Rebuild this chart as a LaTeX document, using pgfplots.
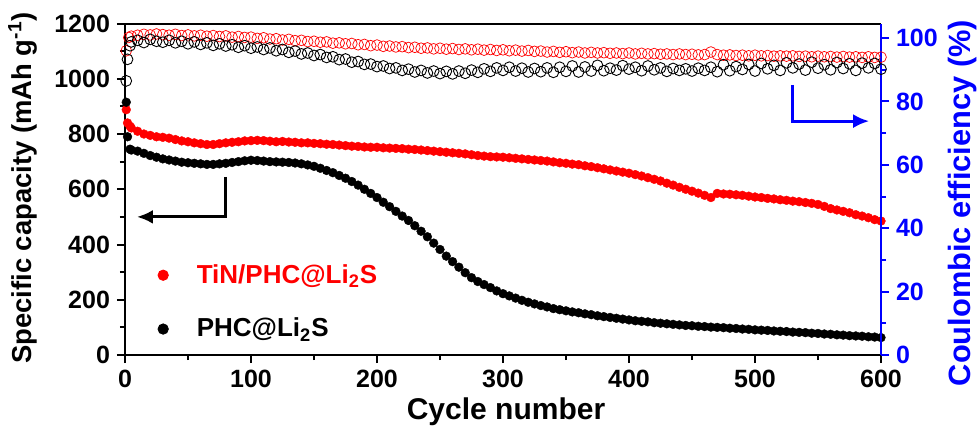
\documentclass[border=0pt]{standalone}
\usepackage{pgfplots}
\pgfplotsset{compat=1.18}
\usetikzlibrary{arrows.meta}
\usepackage{fontspec}
\setmainfont{Liberation Sans}

% discharge capacity (mAh/g) vs cycle
\pgfplotstableread{
c cap
1 888
2 840
4 828
5 822
10 810
15 800
20 795
25 790
30 788
35 785
40 780
45 775
50 772
55 768
60 765
65 762
70 762
75 765
80 768
85 770
90 772
95 775
100 776
105 777
110 776
115 774
120 772
125 773
130 771
135 770
140 768
145 768
150 766
155 765
160 763
165 762
170 760
175 758
180 756
185 755
190 753
195 752
200 752
205 750
210 749
215 748
220 747
225 745
230 744
235 742
240 740
245 738
250 736
255 734
260 732
265 730
270 728
275 725
280 722
285 720
290 718
295 717
300 716
305 714
310 712
315 710
320 708
325 706
330 704
335 702
340 699
345 696
350 694
355 691
360 689
365 685
370 682
375 678
380 674
385 670
390 666
395 662
400 658
405 653
410 648
415 642
420 636
425 630
430 622
435 615
440 607
445 600
450 593
455 586
460 578
465 570
470 585
475 583
480 582
485 580
490 578
495 575
500 572
505 570
510 567
515 565
520 562
525 560
530 557
535 555
540 552
545 549
550 545
555 538
560 530
565 525
570 520
575 515
580 508
585 503
590 497
595 490
600 485
}\capTiN

\pgfplotstableread{
c cap
1 915
2 790
4 745
5 742
10 738
15 730
20 722
25 716
30 710
35 706
40 702
45 698
50 696
55 694
60 692
65 690
70 690
75 692
80 694
85 697
90 700
95 703
100 705
105 704
110 702
115 700
120 699
125 698
130 697
135 695
140 692
145 688
150 683
155 676
160 668
165 660
170 650
175 640
180 628
185 615
190 600
195 585
200 570
205 553
210 537
215 520
220 503
225 487
230 468
235 448
240 428
245 405
250 382
255 358
260 338
265 318
270 298
275 280
280 266
285 255
290 244
295 232
300 222
305 214
310 206
315 198
320 191
325 185
330 179
335 174
340 168
345 164
350 160
355 156
360 153
365 149
370 146
375 142
380 139
385 136
390 133
395 130
400 127
405 124
410 122
415 120
420 117
425 115
430 113
435 111
440 109
445 107
450 106
455 104
460 103
465 101
470 100
475 99
480 97
485 96
490 94
495 93
500 91
505 90
510 89
515 87
520 86
525 85
530 83
535 82
540 81
545 79
550 78
555 76
560 75
565 73
570 72
575 70
580 69
585 68
590 66
595 65
600 63
}\capPHC

% coulombic efficiency (%)
\pgfplotstableread{
c ce
1 96.0
3 100.2
5 100.6
10 100.9
15 101.2
20 101.0
25 101.3
30 101.1
35 100.9
40 101.2
45 100.8
50 101.0
55 100.7
60 100.9
65 100.6
70 100.8
75 100.5
80 100.7
85 100.3
90 100.5
95 100.2
100 100.3
105 99.9
110 100.1
115 99.7
120 99.8
125 99.4
130 99.6
135 99.2
140 99.3
145 98.9
150 99.0
155 98.7
160 98.8
165 98.4
170 98.5
175 98.2
180 98.3
185 97.9
190 98.0
195 97.6
200 97.8
205 97.4
210 97.5
215 97.2
220 97.3
225 97.0
230 97.1
235 96.8
240 96.9
245 96.6
250 96.8
255 96.5
260 96.7
265 96.4
270 96.6
275 96.3
280 96.5
285 96.2
290 96.4
295 96.1
300 96.3
305 96.0
310 96.2
315 95.9
320 96.1
325 95.8
330 95.9
335 95.6
340 95.8
345 95.5
350 95.7
355 95.4
360 95.6
365 95.3
370 95.5
375 95.3
380 95.4
385 95.2
390 95.3
395 95.1
400 95.3
405 95.0
410 95.2
415 95.0
420 95.1
425 94.9
430 95.0
435 94.8
440 95.0
445 94.8
450 94.9
455 94.7
460 94.8
465 95.6
470 94.8
475 94.6
480 94.7
485 94.5
490 94.6
495 94.4
500 94.6
505 94.4
510 94.5
515 94.3
520 94.4
525 94.3
530 94.4
535 94.2
540 94.3
545 94.1
550 94.3
555 94.1
560 94.2
565 94.0
570 94.2
575 94.0
580 94.1
585 93.9
590 94.1
595 93.9
600 94.0
}\ceTiN

\pgfplotstableread{
c ce
1 86.5
2 93.3
4 97.6
5 98.8
10 99.3
15 98.6
20 99.6
25 99.0
30 98.7
35 99.3
40 98.5
45 99.0
50 98.2
55 98.8
60 98.0
65 98.5
70 97.7
75 98.2
80 97.5
85 97.9
90 97.1
95 97.6
100 96.8
105 97.2
110 96.4
115 96.9
120 96.0
125 96.4
130 95.5
135 95.9
140 95.0
145 95.3
150 94.5
155 94.8
160 93.9
165 94.1
170 93.2
175 93.4
180 92.4
185 92.6
190 91.7
195 91.8
200 91.0
205 91.2
210 90.4
215 90.6
220 89.8
225 90.2
230 89.3
235 89.8
240 89.0
245 89.6
250 88.8
255 89.5
260 88.7
265 89.6
270 88.9
275 89.9
280 89.2
285 90.3
290 89.5
295 90.6
300 89.8
305 90.8
310 89.6
315 90.5
320 89.3
325 90.4
330 89.4
335 90.6
340 89.2
345 90.8
350 89.5
355 91.2
360 89.3
365 90.9
370 89.6
375 91.4
380 89.7
385 90.5
390 89.9
395 91.3
400 90.2
405 90.8
410 89.7
415 91.2
420 90.0
425 90.6
430 89.5
435 90.4
440 89.8
445 90.3
450 89.6
455 90.5
460 89.8
465 90.8
470 89.4
475 91.6
480 89.7
485 91.0
490 90.1
495 91.7
500 89.6
505 92.0
510 90.3
515 91.4
520 89.8
525 92.2
530 90.6
535 91.8
540 89.9
545 92.4
550 90.5
555 91.6
560 90.0
565 92.3
570 90.4
575 91.9
580 89.8
585 92.1
590 90.6
595 92.0
600 90.2
}\cePHC

\pgfplotsset{
  common/.style={
    scale only axis, width=378pt, height=165.75pt,
    xmin=0, xmax=600,
    tick align=outside,
    major tick length=4pt, minor tick length=2.5pt,
    every tick/.style={line width=1pt},
    /pgf/number format/assume math mode=true,
    /pgf/number format/1000 sep={},
    ticklabel style={font=\fontsize{12.5}{14}\selectfont\bfseries},
  },
}

\begin{document}
\begin{tikzpicture}
\begin{axis}[
  common,
  ymin=0, ymax=1200,
  axis y line*=left,
  xtick pos=bottom,
  xtick={0,100,...,600}, minor x tick num=1,
  ytick={0,200,...,1200}, minor y tick num=1,
  axis line style={line width=1pt},
  every tick/.append style={black},
  xlabel={Cycle number},
  ylabel={Specific capacity (mAh g\textsuperscript{-1})},
  xlabel style={font=\fontsize{15}{17}\selectfont\bfseries,
    at={(axis description cs:0.504,-0.196)}, anchor=base},
  ylabel style={font=\fontsize{13.7}{16}\selectfont\bfseries,
    at={(axis description cs:-0.135,0.504)}, anchor=center},
  legend style={draw=none, fill=none,
    at={(axis description cs:0.027,0.299)}, anchor=north west,
    font=\fontsize{13}{15}\selectfont\bfseries,
    row sep=12pt, cells={anchor=west}},
  legend image code/.code={
    \path[draw=none, fill=none] (0,-2.5pt) rectangle (0.72cm,2.5pt);
    \fill[#1] (0.2cm,0) circle (2.6pt);},
]
\addplot[only marks, mark=*, mark size=2.2pt, red,
  mark options={fill=red, draw=red, line width=0.2pt}]
  table[x=c, y=cap] {\capTiN};
\addlegendentry{\textcolor{red}{TiN/PHC@Li\textsubscript{2}S}}
\addplot[only marks, mark=*, mark size=2.2pt, black,
  mark options={fill=black, draw=black, line width=0.2pt}]
  table[x=c, y=cap] {\capPHC};
\addlegendentry{PHC@Li\textsubscript{2}S}

% pointer to the capacity axis
\draw[line width=1.5pt, -{Latex[length=8pt,width=7pt]}]
  (axis cs:80,645) -- (axis cs:80,500) -- (axis cs:9.5,500);
\end{axis}

\begin{axis}[
  common,
  ymin=0, ymax=104.6,
  axis x line=none,
  axis y line*=right,
  xtick=\empty,
  ytick={0,20,...,100}, minor y tick num=1,
  axis line style={blue, line width=1pt},
  every tick/.append style={blue},
  yticklabel style={text=blue},
  ylabel={Coulombic efficiency (\%)},
  ylabel style={font=\fontsize{15.4}{17}\selectfont\bfseries, text=blue,
    at={(axis description cs:1.1085,0.4585)}, anchor=center},
]
\addplot[only marks, mark=o, mark size=2.7pt,
  mark options={draw=red, fill=white, line width=0.35pt}]
  table[x=c, y=ce] {\ceTiN};
\addplot[only marks, mark=o, mark size=2.7pt,
  mark options={draw=black, fill=white, line width=0.45pt}]
  table[x=c, y=ce] {\cePHC};

% pointer to the efficiency axis
\draw[blue, line width=1.5pt, -{Latex[length=8pt,width=7pt]}]
  (axis cs:530,85.2) -- (axis cs:530,73.8) -- (axis cs:590.6,73.8);
\end{axis}

\pgfresetboundingbox
\path[use as bounding box] (-62.5pt,-35pt) rectangle (426.5pt,177.5pt);
\end{tikzpicture}
\end{document}
